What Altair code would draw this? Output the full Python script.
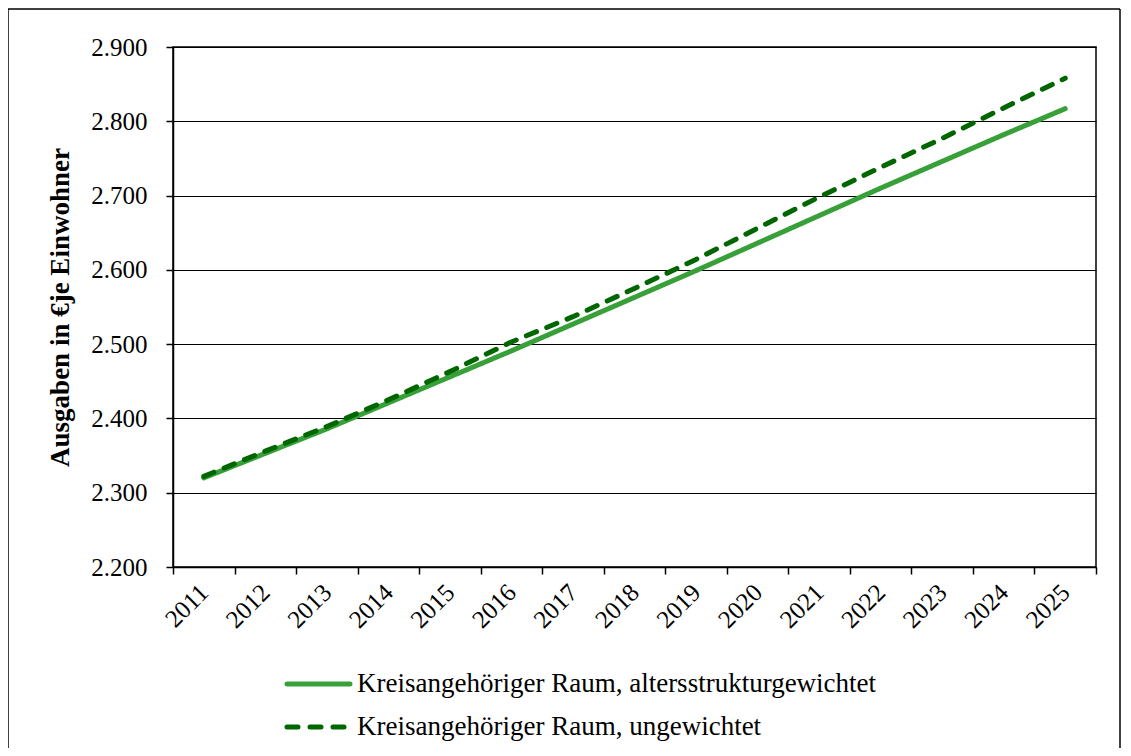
import altair as alt
import pandas as pd

years = [str(y) for y in range(2011, 2026)]
series_names = [
    "Kreisangehöriger Raum, altersstrukturgewichtet",
    "Kreisangehöriger Raum, ungewichtet",
]
gewichtet = [2320, 2353, 2386, 2421, 2456, 2491, 2527, 2563, 2599, 2636, 2673, 2710, 2746, 2782, 2817]
ungewichtet = [2322, 2356, 2389, 2425, 2463, 2503, 2537, 2575, 2614, 2656, 2698, 2738, 2777, 2818, 2858]
colors = ["#38a038", "#006600"]
dashes = [[1, 0], [11, 11]]
legend_dashes = [[1, 0], [11, 12]]

rows = []
for y, a, b in zip(years, gewichtet, ungewichtet):
    rows.append({"Jahr": y, "Serie": series_names[0], "Wert": a})
    rows.append({"Jahr": y, "Serie": series_names[1], "Wert": b})
df = pd.DataFrame(rows)

W, H = 923, 520
PAD = {"left": 165, "top": 39, "right": 26, "bottom": 181}

FONT = "Liberation Serif, Times New Roman, serif"

lines = alt.Chart(df).mark_line(strokeWidth=5, strokeCap="round").encode(
    x=alt.X("Jahr:N", sort=years, title=None,
            scale=alt.Scale(type="band", paddingInner=0, paddingOuter=0),
            axis=alt.Axis(tickBand="extent", labelAngle=-45, labelFont=FONT, labelFontSize=25,
                          labelColor="black", tickColor="black", domainColor="black",
                          tickSize=7, labelPadding=14, grid=False, labelAlign="right",
                          labelBaseline="middle", tickWidth=1.5, domainWidth=1.5)),
    y=alt.Y("Wert:Q", title="Ausgaben in €je Einwohner",
            scale=alt.Scale(domain=[2200, 2900], nice=False, zero=False),
            axis=alt.Axis(values=list(range(2200, 2901, 100)),
                          labelExpr="replace(format(datum.value, ',.0f'), ',', '.')",
                          labelFont=FONT, labelFontSize=25, labelColor="black",
                          tickColor="black", domainColor="black", tickSize=7, labelPadding=19,
                          gridColor="black", gridWidth=1.2, gridOpacity=1,
                          titleFont=FONT, titleFontSize=27, titleFontWeight="bold",
                          titleColor="black", titlePadding=16, tickWidth=1.5, domainWidth=1.5)),
    color=alt.Color("Serie:N", sort=series_names,
                    scale=alt.Scale(domain=series_names, range=colors), legend=None),
    strokeDash=alt.StrokeDash("Serie:N", sort=series_names,
                              scale=alt.Scale(domain=series_names, range=dashes), legend=None),
)

# manual legend (two entries)
one = pd.DataFrame({"k": [0]})
legend_layers = []
for i, name in enumerate(series_names):
    yy = 637 + 43 * i
    legend_layers.append(
        alt.Chart(one).mark_rule(color=colors[i], strokeWidth=5, strokeCap="round",
                                 strokeDash=legend_dashes[i], clip=False).encode(
            x=alt.value(114), x2=alt.value(177 if i == 0 else 171), y=alt.value(yy), y2=alt.value(yy))
    )
    legend_layers.append(
        alt.Chart(one).mark_text(text=name, font=FONT, fontSize=27, color="black",
                                 align="left", baseline="middle", clip=False).encode(
            x=alt.value(184), y=alt.value(yy))
    )

border = alt.Chart(one).mark_rule(color="black", strokeWidth=1.5, clip=False)
left_b = border.encode(x=alt.value(-165), x2=alt.value(-165), y=alt.value(-38), y2=alt.value(H + 181))
top_b = border.encode(x=alt.value(-165), x2=alt.value(W + 24), y=alt.value(-38), y2=alt.value(-38))
right_b = border.encode(x=alt.value(W + 24), x2=alt.value(W + 24), y=alt.value(-38), y2=alt.value(H + 181))

chart = alt.layer(lines, *legend_layers, left_b, top_b, right_b).properties(
    width=W, height=H,
    padding=PAD,
    autosize=alt.AutoSizeParams(type="none"),
    background="white",
).configure_view(stroke="black", strokeWidth=1.5)

chart.save("out.html", embed_options={"renderer": "svg", "actions": False})
